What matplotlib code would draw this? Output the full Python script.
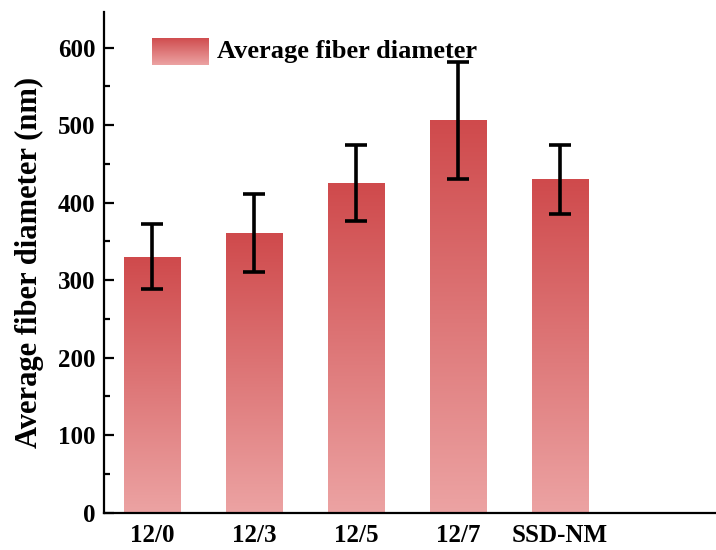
import numpy as np
import matplotlib
matplotlib.use('Agg')
import matplotlib.pyplot as plt
from matplotlib.colors import LinearSegmentedColormap

plt.rcParams['font.family'] = ['Liberation Serif', 'DejaVu Serif']
plt.rcParams['font.weight'] = 'bold'

# Fiber diameter per spinning condition
groups = ['12/0', '12/3', '12/5', '12/7', 'SSD-NM']
diameters = [330, 361, 425, 506, 430]
errors = [42, 50, 49, 76, 45]

LIGHT = '#eca3a3'
DARK = '#cf4a4c'
grad_cmap = LinearSegmentedColormap.from_list('fiber', [LIGHT, DARK])
grad = np.linspace(0, 1, 256).reshape(-1, 1)

fig = plt.figure(figsize=(7.16, 5.5), dpi=100)
ax = fig.add_axes([0.145, 0.068, 0.855, 0.91])

width = 0.55
x = np.arange(len(groups))
for xi, h in zip(x, diameters):
    ax.imshow(grad, cmap=grad_cmap, origin='lower', aspect='auto',
              extent=(xi - width / 2, xi + width / 2, 0, h), zorder=2)

ax.errorbar(x, diameters, yerr=errors, fmt='none', ecolor='black',
            elinewidth=2.6, capsize=8, capthick=2.6, zorder=3)

ax.set_xlim(-0.47, 5.53)
ax.set_ylim(0, 646)
ax.set_xticks(x)
ax.set_xticklabels(groups)
ax.set_yticks(np.arange(0, 601, 100))
ax.set_yticks(np.arange(50, 601, 100), minor=True)

ax.spines['top'].set_visible(False)
ax.spines['right'].set_visible(False)
for s in ('left', 'bottom'):
    ax.spines[s].set_linewidth(1.6)

ax.tick_params(axis='both', which='major', direction='in', length=7, width=1.6,
               labelsize=18, pad=6)
ax.tick_params(axis='x', which='major', pad=8)
ax.tick_params(axis='y', which='minor', direction='in', length=4, width=1.6)
for lbl in ax.get_xticklabels() + ax.get_yticklabels():
    lbl.set_fontweight('bold')

ax.set_ylabel('Average fiber diameter (nm)', fontsize=22, fontweight='bold', labelpad=10)

# gradient swatch + label for the legend
swatch = ax.inset_axes([0.078, 0.894, 0.092, 0.054])
swatch.imshow(grad, cmap=grad_cmap, origin='lower', aspect='auto')
swatch.axis('off')
ax.text(0.185, 0.921, 'Average fiber diameter', transform=ax.transAxes,
        fontsize=19, fontweight='bold', va='center', ha='left')

fig.savefig('out.png', dpi=100)
